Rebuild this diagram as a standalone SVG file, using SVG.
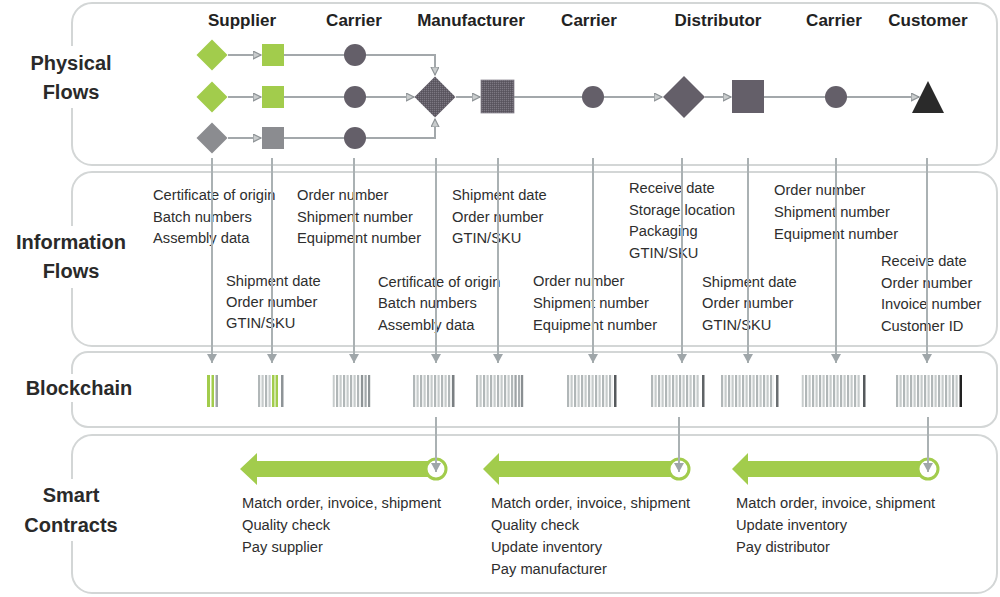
<svg xmlns="http://www.w3.org/2000/svg" width="1000" height="597" viewBox="0 0 1000 597">
<style>
.panel{fill:#fff;stroke:#d3d6d6;stroke-width:2}
.lbl{font-family:"Liberation Sans",Arial,sans-serif;font-weight:bold;font-size:20px;fill:#2a2a2a;text-anchor:middle}
.hdr{font-family:"Liberation Sans",Arial,sans-serif;font-weight:bold;font-size:17px;fill:#222;text-anchor:middle}
.txt{font-family:"Liberation Sans",Arial,sans-serif;font-size:14.7px;fill:#2e2e2e}
.flow{fill:none;stroke:#a3a8ab;stroke-width:2}
.vline{fill:none;stroke:#aab1b3;stroke-width:2}
.green{fill:#a2cc4c}
.greyn{fill:#8b8c90}
.dark{fill:#645f69}
.ring{fill:#fff;stroke:#a2cc4c;stroke-width:3}
</style>
<defs>
<marker id="open" markerUnits="userSpaceOnUse" markerWidth="10" markerHeight="10" refX="8" refY="4" orient="auto">
<path d="M0,0 L8,4 L0,8 Z" fill="#c9cccd" stroke="#8f9497" stroke-width="1.2"/>
</marker>
<marker id="down" markerUnits="userSpaceOnUse" markerWidth="12" markerHeight="10" refX="9" refY="5" orient="auto">
<path d="M0,0 L9,5 L0,10 Z" fill="#9fa6a9"/>
</marker>
<pattern id="hatch" width="2" height="2" patternUnits="userSpaceOnUse">
<rect width="2" height="2" fill="#615c66"/>
<rect width="1" height="1" fill="#7c7882"/>
<rect x="1" y="1" width="1" height="1" fill="#57535c"/>
</pattern>
<pattern id="bc" x="0" y="375" width="7" height="32" patternUnits="userSpaceOnUse">
<rect x="0" y="0" width="2.2" height="32" fill="#b1b7b8"/>
<rect x="3.5" y="0" width="2.2" height="32" fill="#c6cbcb"/>
</pattern>
</defs>

<rect width="1000" height="597" fill="#fff"/>

<g id="panels">
<rect class="panel" x="72" y="3" width="925" height="162" rx="20"/>
<rect class="panel" x="72" y="172" width="925" height="174" rx="20"/>
<rect class="panel" x="72" y="352" width="925" height="75" rx="16"/>
<rect class="panel" x="72" y="435" width="925" height="158" rx="20"/>
</g>

<g id="row-labels">
<rect x="24" y="46" width="96" height="62" fill="#fff"/>
<text class="lbl" x="71" y="70">Physical</text>
<text class="lbl" x="71" y="98.5">Flows</text>
<rect x="12" y="226" width="118" height="62" fill="#fff"/>
<text class="lbl" x="71" y="249">Information</text>
<text class="lbl" x="71" y="278">Flows</text>
<rect x="22" y="374" width="114" height="28" fill="#fff"/>
<text class="lbl" x="79" y="395">Blockchain</text>
<rect x="22" y="479" width="98" height="62" fill="#fff"/>
<text class="lbl" x="71" y="502">Smart</text>
<text class="lbl" x="71" y="532">Contracts</text>
</g>

<g id="headers">
<text class="hdr" x="242" y="26">Supplier</text>
<text class="hdr" x="354" y="26">Carrier</text>
<text class="hdr" x="471" y="26">Manufacturer</text>
<text class="hdr" x="589" y="26">Carrier</text>
<text class="hdr" x="718" y="26">Distributor</text>
<text class="hdr" x="834" y="26">Carrier</text>
<text class="hdr" x="928" y="26">Customer</text>
</g>

<g id="info-texts" class="txt">
<text x="153" y="200">Certificate of origin</text>
<text x="153" y="221.5">Batch numbers</text>
<text x="153" y="243">Assembly data</text>
<text x="297" y="200">Order number</text>
<text x="297" y="221.5">Shipment number</text>
<text x="297" y="243">Equipment number</text>
<text x="452" y="200">Shipment date</text>
<text x="452" y="221.5">Order number</text>
<text x="452" y="243">GTIN/SKU</text>
<text x="629" y="193">Receive date</text>
<text x="629" y="214.5">Storage location</text>
<text x="629" y="236">Packaging</text>
<text x="629" y="257.5">GTIN/SKU</text>
<text x="774" y="195">Order number</text>
<text x="774" y="217">Shipment number</text>
<text x="774" y="239">Equipment number</text>
<text x="226" y="286">Shipment date</text>
<text x="226" y="307">Order number</text>
<text x="226" y="328">GTIN/SKU</text>
<text x="378" y="287">Certificate of origin</text>
<text x="378" y="308">Batch numbers</text>
<text x="378" y="330">Assembly data</text>
<text x="533" y="286">Order number</text>
<text x="533" y="308">Shipment number</text>
<text x="533" y="330">Equipment number</text>
<text x="702" y="287">Shipment date</text>
<text x="702" y="308">Order number</text>
<text x="702" y="330">GTIN/SKU</text>
<text x="881" y="266">Receive date</text>
<text x="881" y="288">Order number</text>
<text x="881" y="309">Invoice number</text>
<text x="881" y="331">Customer ID</text>
</g>

<g id="connectors">
<path class="flow" d="M228,55 H261" marker-end="url(#open)"/>
<path class="flow" d="M228,97 H261" marker-end="url(#open)"/>
<path class="flow" d="M228,138 H261" marker-end="url(#open)"/>
<path class="flow" d="M284,55 H435 V75" marker-end="url(#open)"/>
<path class="flow" d="M284,97 H414" marker-end="url(#open)"/>
<path class="flow" d="M284,138 H435 V119" marker-end="url(#open)"/>
<path class="flow" d="M456,97 H480" marker-end="url(#open)"/>
<path class="flow" d="M514,97 H662" marker-end="url(#open)"/>
<path class="flow" d="M705,97 H731" marker-end="url(#open)"/>
<path class="flow" d="M764,97 H919" marker-end="url(#open)"/>
<path class="vline" d="M212,158 V363" marker-end="url(#down)"/>
<path class="vline" d="M272,158 V363" marker-end="url(#down)"/>
<path class="vline" d="M354,158 V363" marker-end="url(#down)"/>
<path class="vline" d="M436,158 V363" marker-end="url(#down)"/>
<path class="vline" d="M498,158 V363" marker-end="url(#down)"/>
<path class="vline" d="M593,158 V363" marker-end="url(#down)"/>
<path class="vline" d="M682,158 V363" marker-end="url(#down)"/>
<path class="vline" d="M748,158 V363" marker-end="url(#down)"/>
<path class="vline" d="M836,158 V363" marker-end="url(#down)"/>
<path class="vline" d="M927,158 V363" marker-end="url(#down)"/>
</g>

<g id="supplier">
<path class="green" d="M212,39.5 L227.5,55 L212,70.5 L196.5,55 Z"/>
<path class="green" d="M212,81.5 L227.5,97 L212,112.5 L196.5,97 Z"/>
<path class="greyn" d="M212,122.5 L227.5,138 L212,153.5 L196.5,138 Z"/>
<rect class="green" x="262" y="44" width="22" height="22"/>
<rect class="green" x="262" y="86" width="22" height="22"/>
<rect class="greyn" x="262" y="127" width="22" height="22"/>
</g>
<g id="carrier1">
<circle class="dark" cx="355" cy="55" r="11"/>
<circle class="dark" cx="355" cy="97" r="11"/>
<circle class="dark" cx="355" cy="138" r="11"/>
</g>
<g id="manufacturer">
<path d="M435,76.5 L455.5,97 L435,117.5 L414.5,97 Z" fill="url(#hatch)"/>
<rect x="481" y="80" width="33" height="33" fill="url(#hatch)" stroke="#8a8690" stroke-width="0.8"/>
</g>
<g id="carrier2">
<circle class="dark" cx="593" cy="97" r="11"/>
</g>
<g id="distributor">
<path class="dark" d="M684,76 L705,97 L684,118 L663,97 Z"/>
<rect class="dark" x="732" y="80" width="32" height="33"/>
</g>
<g id="carrier3">
<circle class="dark" cx="836" cy="97" r="11"/>
</g>
<g id="customer">
<path d="M928,81 L944,113 L912,113 Z" fill="#2a2a2a"/>
</g>

<g id="blockchain">
<rect x="207" y="375" width="3" height="32" fill="#a2cc4c"/>
<rect x="211.5" y="375" width="2.5" height="32" fill="#a2cc4c"/>
<rect x="215.5" y="375" width="2.5" height="32" fill="#9ea4a6"/>
<rect x="258" y="375" width="2.2" height="32" fill="#b1b7b8"/>
<rect x="261.5" y="375" width="2.2" height="32" fill="#c6cbcb"/>
<rect x="265" y="375" width="2.2" height="32" fill="#b1b7b8"/>
<rect x="268.5" y="375" width="2.2" height="32" fill="#c6cbcb"/>
<rect x="272" y="375" width="2.5" height="32" fill="#a2cc4c"/>
<rect x="275.5" y="375" width="2.5" height="32" fill="#a2cc4c"/>
<rect x="281" y="375" width="2.5" height="32" fill="#8e9497"/>
<rect x="332.5" y="375" width="28" height="32" fill="url(#bc)"/>
<rect x="361" y="375" width="2.2" height="32" fill="#8e9496"/>
<rect x="364.5" y="375" width="2.2" height="32" fill="#a3a9ab"/>
<rect x="368" y="375" width="2.2" height="32" fill="#8e9496"/>
<rect x="413" y="375" width="38.5" height="32" fill="url(#bc)"/>
<rect x="452" y="375" width="2.5" height="32" fill="#7a7f82"/>
<rect x="476" y="375" width="38.5" height="32" fill="url(#bc)"/>
<rect x="514.5" y="375" width="2.2" height="32" fill="#9ea3a5"/>
<rect x="518" y="375" width="2.2" height="32" fill="#a9aeb0"/>
<rect x="521" y="375" width="2.2" height="32" fill="#8a8f92"/>
<rect x="567" y="375" width="45.5" height="32" fill="url(#bc)"/>
<rect x="614" y="375" width="2.5" height="32" fill="#55595c"/>
<rect x="651" y="375" width="49" height="32" fill="url(#bc)"/>
<rect x="702" y="375" width="2.5" height="32" fill="#5f6366"/>
<rect x="721" y="375" width="52.5" height="32" fill="url(#bc)"/>
<rect x="776" y="375" width="2.5" height="32" fill="#6a6e71"/>
<rect x="801.5" y="375" width="59.5" height="32" fill="url(#bc)"/>
<rect x="863" y="375" width="2.5" height="32" fill="#55595c"/>
<rect x="896" y="375" width="63" height="32" fill="url(#bc)"/>
<rect x="959.5" y="375" width="2.5" height="32" fill="#222"/>
</g>

<g id="contract-1">
<path class="green" d="M240,469 L257,453 L257,461 L428,461 L428,477 L257,477 L257,485 Z"/>
<circle class="ring" cx="436" cy="469" r="10"/>
<text class="txt" x="242" y="508">Match order, invoice, shipment</text>
<text class="txt" x="242" y="530">Quality check</text>
<text class="txt" x="242" y="552">Pay supplier</text>
</g>
<g id="contract-2">
<path class="green" d="M483,469 L499,453 L499,461 L671,461 L671,477 L499,477 L499,485 Z"/>
<circle class="ring" cx="679" cy="469" r="10"/>
<text class="txt" x="491" y="508">Match order, invoice, shipment</text>
<text class="txt" x="491" y="530">Quality check</text>
<text class="txt" x="491" y="552">Update inventory</text>
<text class="txt" x="491" y="574">Pay manufacturer</text>
</g>
<g id="contract-3">
<path class="green" d="M732,469 L748,453 L748,461 L920,461 L920,477 L748,477 L748,485 Z"/>
<circle class="ring" cx="928" cy="469" r="10"/>
<text class="txt" x="736" y="508">Match order, invoice, shipment</text>
<text class="txt" x="736" y="530">Update inventory</text>
<text class="txt" x="736" y="552">Pay distributor</text>
</g>

<g id="contract-connectors">
<path class="vline" d="M436,417 V472" marker-end="url(#down)"/>
<path class="vline" d="M679,417 V472" marker-end="url(#down)"/>
<path class="vline" d="M928,417 V472" marker-end="url(#down)"/>
</g>
</svg>
